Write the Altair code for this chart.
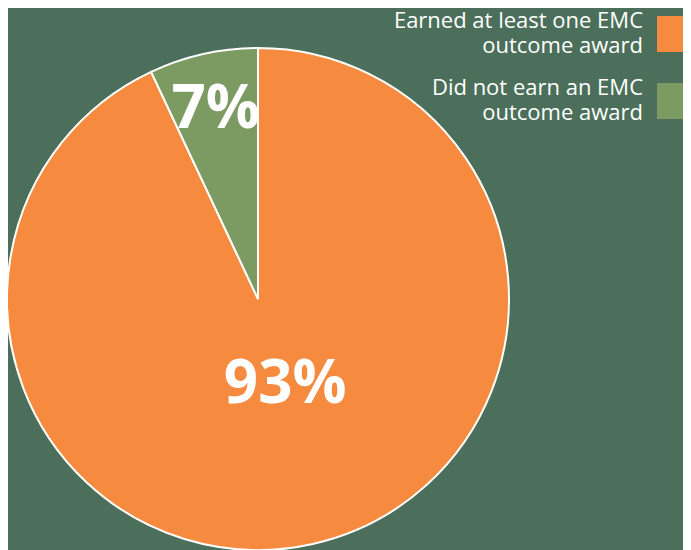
import altair as alt
import pandas as pd

categories = ["Earned at least one EMC\noutcome award", "Did not earn an EMC\noutcome award"]
values = [93, 7]
labels = ["93%", "7%"]
colors = ["#f68b3f", "#7b9b63"]

df = pd.DataFrame({"category": categories, "value": values, "label": labels, "order": [0, 1]})

BG = "#4b6f5a"
CX, CY, R = 250, 291, 251

color_enc = alt.Color(
    "category:N",
    sort=categories,
    scale=alt.Scale(domain=categories, range=colors),
    legend=None,
)

base = alt.Chart(df).encode(
    theta=alt.Theta("value:Q", stack=True),
    order=alt.Order("order:Q"),
)

pie = base.mark_arc(outerRadius=R, stroke="white", strokeWidth=2).encode(
    x=alt.value(CX),
    y=alt.value(CY),
    color=color_enc,
)

label_small = base.mark_text(
    radius=194, font="Open Sans", fontWeight="bold", fontSize=60, color="white",
    baseline="middle", align="center",
).encode(
    x=alt.value(CX),
    y=alt.value(CY),
    text=alt.condition(alt.datum.order == 1, "label:N", alt.value("")),
)

label_big = base.mark_text(
    radius=88, dx=8, font="Open Sans", fontWeight="bold", fontSize=60, color="white",
    baseline="middle", align="center",
).encode(
    x=alt.value(CX),
    y=alt.value(CY),
    text=alt.condition(alt.datum.order == 0, "label:N", alt.value("")),
)

# custom legend (swatch on the right, right-aligned text on the left)
leg_y = alt.Y(
    "category:N",
    sort=categories,
    scale=alt.Scale(type="point", domain=categories, range=[26, 93], padding=0),
    axis=None,
)

leg_swatch = alt.Chart(df).mark_square(size=1296, opacity=1, strokeWidth=0).encode(
    x=alt.value(667),
    y=leg_y,
    color=color_enc,
)

leg_text = alt.Chart(df).mark_text(
    align="right", baseline="alphabetic", dy=-6, font="Open Sans", fontSize=22, color="white",
    lineBreak="\n", lineHeight=25,
).encode(
    x=alt.value(635),
    y=leg_y,
    text="category:N",
)

chart = (
    alt.layer(pie, label_small, label_big, leg_swatch, leg_text)
    .properties(
        width=675,
        height=550,
        background=BG,
        padding=0,
        autosize=alt.AutoSizeParams(type="none"),
    )
    .configure_view(stroke=None)
)

chart.save("out.html", embed_options={"renderer": "svg", "actions": False})
